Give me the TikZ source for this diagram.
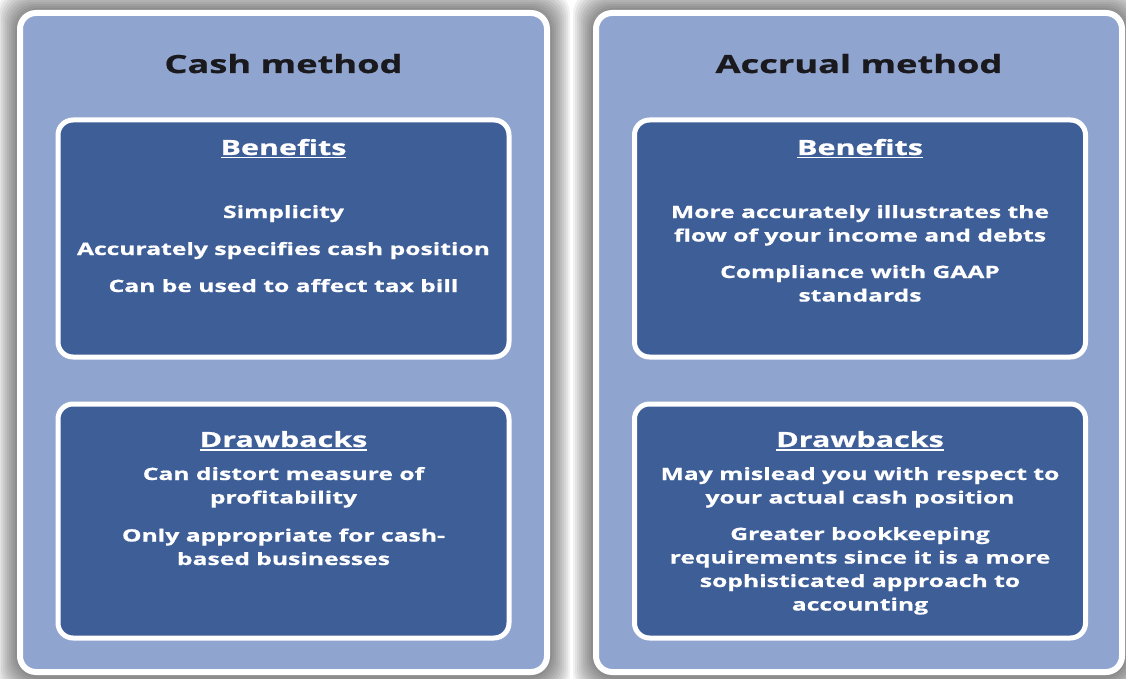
\documentclass[tikz,border=0pt]{standalone}
\usepackage{fontspec}
\newfontfamily\boxfont[FakeStretch=1.45,BoldFeatures={FakeBold=0.8}]{Open Sans}
\newcommand\headul[1]{\setbox0\hbox{#1}\rlap{\rule[-3.5pt]{\wd0}{1.6pt}}\box0}
\definecolor{panelBlue}{RGB}{143,164,207}
\definecolor{boxBlue}{RGB}{62,94,152}
\definecolor{titleInk}{RGB}{26,26,30}

\begin{document}
\begin{tikzpicture}
[x=1pt,y=-1pt,
  panelDecorate/.style={fill=panelBlue,draw=white,line width=6pt,rounded corners=16pt},
  boxDecorate/.style={fill=boxBlue,draw=white,line width=5pt,rounded corners=15pt},
  shadeDecorate/.style={fill=black,fill opacity=0.055,rounded corners=24pt},
  titleDecorate/.style={anchor=base,inner sep=0pt,text=titleInk,font=\boxfont\bfseries\fontsize{25}{30}\selectfont},
  headDecorate/.style={anchor=base,inner sep=0pt,text=white,font=\boxfont\bfseries\fontsize{21}{25}\selectfont},
  itemDecorate/.style={anchor=base,inner sep=0pt,text=white,align=center,font=\boxfont\bfseries\fontsize{17}{23.5}\selectfont}]
\useasboundingbox (0,0) rectangle (1126,679);
\clip (0,0) rectangle (1126,679);
\fill[white] (0,0) rectangle (1126,679);
%% panels with their soft shadow
\foreach \panelname/\x/\w/\title in {
  cashPanel/283.5/527/Cash method, accPanel/859/526/Accrual method}
{
  \foreach \s in {2,4,...,20}
    \fill[shadeDecorate] ({\x-\w/2-3-\s},{10-\s}) rectangle ({\x+\w/2+3+\s},{675+\s+2});
  \node (\panelname) at (\x,342.5) [panelDecorate,minimum width=\w pt,minimum height=659pt] {};
  \node (\panelname Title) at (\x,73) [titleDecorate] {\title};
}
%% inner boxes and their headings
\foreach \boxname/\x/\y/\h/\head/\hy in {
  cashBen/283.5/238.5/237/Benefits/155, cashDraw/283.5/521/234/Drawbacks/447,
  accBen/860/238.5/237/Benefits/155, accDraw/860/521/234/Drawbacks/447}
{
  \node (\boxname) at (\x,\y) [boxDecorate,minimum width=451pt,minimum height=\h pt] {};
  \node (\boxname Head) at (\x,\hy) [headDecorate] {\headul{\head}};
}
%% items (y is the baseline of the last line)
\foreach \itemname/\x/\y/\itemtext in {
  cashSimple/283.5/218/{Simplicity},
  cashPosition/283.5/255/{Accurately specifies cash position},
  cashTax/283.5/292/{Can be used to affect tax bill},
  cashDistort/283.5/503.5/{Can distort measure of\\profitability},
  cashOnly/283.5/565/{Only appropriate for cash-\\based businesses},
  accFlow/860/241.5/{More accurately illustrates the\\flow of your income and debts},
  accGaap/860/301.5/{Compliance with GAAP\\standards},
  accMislead/860/503.5/{May mislead you with respect to\\your actual cash position},
  accBooks/860/610.5/{Greater bookkeeping\\requirements since it is a more\\sophisticated approach to\\accounting}}
{
  \node (\itemname) at (\x,\y) [itemDecorate] {\itemtext};
}
\end{tikzpicture}
\end{document}
